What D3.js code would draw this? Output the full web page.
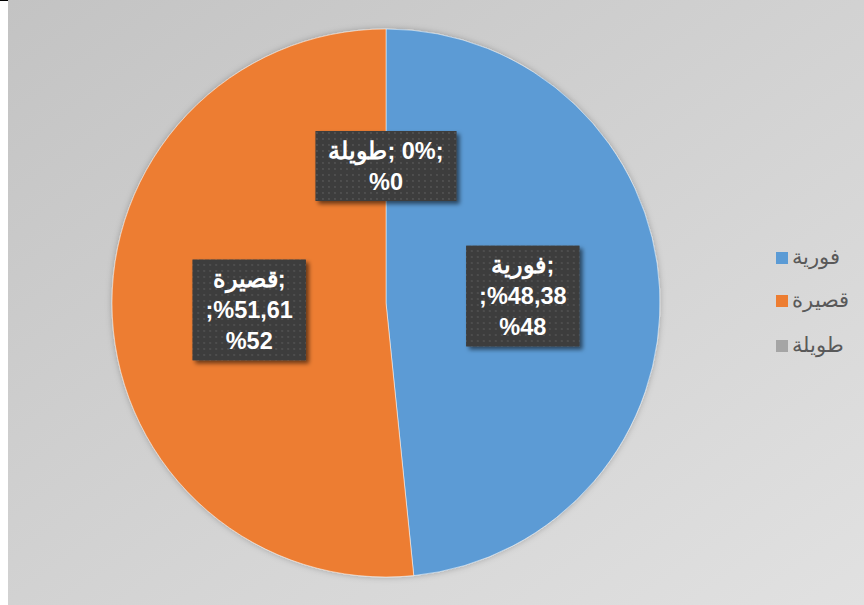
<!DOCTYPE html>
<html>
<head>
<meta charset="utf-8">
<script src="https://cdn.jsdelivr.net/npm/d3@7"></script>
<style>
  body { margin: 0; background: #fff; }
  svg { display: block; }
</style>
</head>
<body>
<svg id="canvas" width="864" height="605"></svg>
<script>
// chart data
const categories = ["فورية", "قصيرة", "طويلة"];
const values = [48.38, 51.61, 0];
const colors = ["#5B9BD5", "#ED7D31", "#A5A5A5"];

const W = 864, H = 605;
const cx = 386, cy = 303, radius = 274;

const svg = d3.select("#canvas");
const defs = svg.append("defs");

// background gradient
const bg = defs.append("linearGradient").attr("id", "bg")
  .attr("x1", 0).attr("y1", 0).attr("x2", 1).attr("y2", 1);
bg.append("stop").attr("offset", 0).attr("stop-color", "#c3c3c3");
bg.append("stop").attr("offset", 1).attr("stop-color", "#e1e1e1");

// dotted fill for data labels
const pat = defs.append("pattern").attr("id", "dots")
  .attr("width", 6).attr("height", 6).attr("patternUnits", "userSpaceOnUse");
pat.append("rect").attr("width", 6).attr("height", 6).attr("fill", "#3d3d3d");
pat.append("circle").attr("cx", 3).attr("cy", 3).attr("r", 0.9).attr("fill", "#565656");

const shadow = defs.append("filter").attr("id", "shadow")
  .attr("x", "-20%").attr("y", "-20%").attr("width", "150%").attr("height", "150%");
shadow.append("feDropShadow").attr("dx", 3).attr("dy", 3)
  .attr("stdDeviation", 2).attr("flood-color", "#000").attr("flood-opacity", 0.55);

const pieShadow = defs.append("filter").attr("id", "pieShadow")
  .attr("x", "-10%").attr("y", "-10%").attr("width", "120%").attr("height", "120%");
pieShadow.append("feDropShadow").attr("dx", 0).attr("dy", 0)
  .attr("stdDeviation", 3).attr("flood-color", "#000").attr("flood-opacity", 0.25);

svg.append("rect").attr("x", 8).attr("y", 0).attr("width", W - 8).attr("height", H)
  .attr("fill", "url(#bg)");
svg.append("rect").attr("x", 0).attr("y", 0).attr("width", 8).attr("height", 1).attr("fill", "#000");

// pie
const pie = d3.pie().sort(null).value((d) => d)(values);
const arc = d3.arc().innerRadius(0).outerRadius(radius);

const g = svg.append("g").attr("transform", `translate(${cx},${cy})`);
g.append("g").attr("filter", "url(#pieShadow)")
  .selectAll("path")
  .data(pie)
  .enter()
  .append("path")
  .attr("d", arc)
  .attr("fill", (d, i) => colors[i])
  .attr("stroke", "#ffffff")
  .attr("stroke-opacity", 0.5)
  .attr("stroke-width", (d) => (d.value > 0 ? 1 : 0));

// data labels
const fmt = (v) => v.toFixed(2).replace(".", ",");
const labelLines = (i) => {
  const v = values[i];
  if (v === 0) return [categories[i] + "\u200E; 0%;", "%0"];
  return [categories[i] + "\u200E;", ";%" + fmt(v), "%" + Math.round(v)];
};

const lineH = 31;
pie.forEach((d, i) => {
  const [lx, ly] = arc.centroid(d);
  const lines = labelLines(i);
  const lab = g.append("g").attr("transform", `translate(${lx},${ly})`);
  const box = lab.append("rect").attr("fill", "url(#dots)").attr("filter", "url(#shadow)");
  const t = lab.append("text")
    .attr("direction", "ltr")
    .attr("text-anchor", "middle")
    .attr("font-family", "'Liberation Sans', Arial, sans-serif")
    .attr("font-weight", "bold")
    .attr("font-size", 23.5)
    .attr("fill", "#ffffff");
  lines.forEach((s, k) => {
    t.append("tspan")
      .attr("x", 0)
      .attr("y", (k - (lines.length - 1) / 2) * lineH)
      .attr("dy", "0.35em")
      .text(s);
  });
  let w = 0;
  t.selectAll("tspan").each(function () {
    w = Math.max(w, this.getComputedTextLength());
  });
  const bw = w + 26, bh = lines.length * lineH + 8;
  box.attr("x", -bw / 2).attr("y", -bh / 2).attr("width", bw).attr("height", bh);
});

// legend
const legend = svg.append("g");
const legendY = [258, 301, 346];
categories.forEach((c, i) => {
  legend.append("rect")
    .attr("x", 776).attr("y", legendY[i] - 6)
    .attr("width", 12).attr("height", 12)
    .attr("fill", colors[i]);
  legend.append("text")
    .attr("direction", "ltr")
    .attr("x", 792).attr("y", legendY[i])
    .attr("dy", "0.3em")
    .attr("font-family", "'Liberation Sans', Arial, sans-serif")
    .attr("font-size", 21)
    .attr("fill", "#595959")
    .text(c);
});
</script>
</body>
</html>
